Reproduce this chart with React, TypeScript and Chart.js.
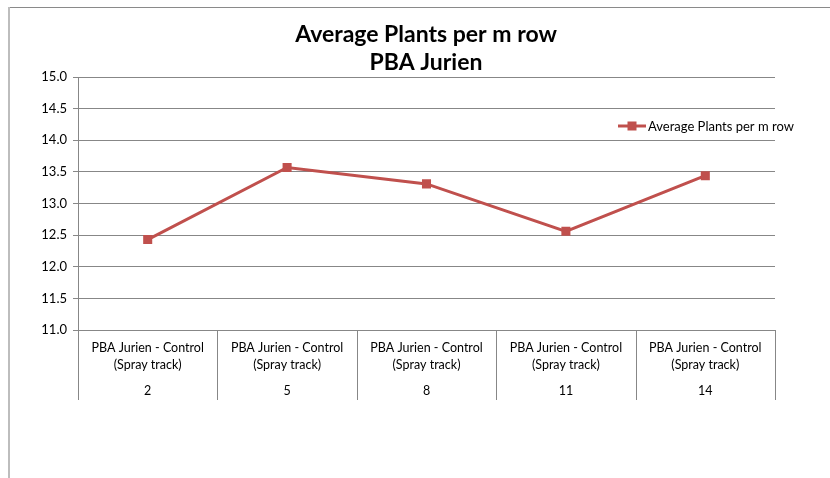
import React, { useEffect, useRef } from 'react';
import { Chart, registerables } from 'chart.js';

Chart.register(...registerables);

const titleLines = ['Average Plants per m row', 'PBA Jurien'];
const seriesName = 'Average Plants per m row';
const categoryLines = [
  ['PBA Jurien - Control', '(Spray track)'],
  ['PBA Jurien - Control', '(Spray track)'],
  ['PBA Jurien - Control', '(Spray track)'],
  ['PBA Jurien - Control', '(Spray track)'],
  ['PBA Jurien - Control', '(Spray track)'],
];
const plotNumbers = ['2', '5', '8', '11', '14'];
const values = [12.43, 13.57, 13.31, 12.56, 13.44];
const yMin = 11;
const yMax = 15;
const yStep = 0.5;

const FONT = 'Lato, Carlito, "Open Sans", sans-serif';
const RED = '#C0504D';
const GRID = '#878787';

const framePlugin = {
  id: 'frame',
  beforeDraw(chart: any) {
    const ctx = chart.ctx;
    ctx.save();
    ctx.fillStyle = '#ffffff';
    ctx.fillRect(0, 0, chart.width, chart.height);
    ctx.lineWidth = 1;
    ctx.strokeStyle = '#8a8a8a';
    ctx.beginPath();
    ctx.moveTo(8, 7.5);
    ctx.lineTo(chart.width, 7.5);
    ctx.stroke();
    ctx.strokeStyle = '#bdbdbd';
    ctx.lineWidth = 2;
    ctx.beginPath();
    ctx.moveTo(9, 7);
    ctx.lineTo(9, chart.height);
    ctx.stroke();
    ctx.restore();
  },
};

const separatorPlugin = {
  id: 'separators',
  afterDraw(chart: any) {
    const xs = chart.scales.x;
    const x2 = chart.scales.x2;
    const ctx = chart.ctx;
    const n = xs.getLabels().length;
    ctx.save();
    ctx.strokeStyle = GRID;
    ctx.lineWidth = 1;
    for (let i = 0; i <= n; i++) {
      const px = Math.round(xs.getPixelForValue(i - 0.5)) + 0.5;
      ctx.beginPath();
      ctx.moveTo(px, xs.top);
      ctx.lineTo(px, x2.bottom);
      ctx.stroke();
    }
    ctx.restore();
  },
};

const legendPlugin = {
  id: 'customLegend',
  afterDraw(chart: any) {
    const ds = chart.data.datasets[0];
    const ctx = chart.ctx;
    const x0 = 618;
    const y0 = 126;
    ctx.save();
    ctx.strokeStyle = ds.borderColor;
    ctx.lineWidth = 3;
    ctx.beginPath();
    ctx.moveTo(x0, y0);
    ctx.lineTo(x0 + 28, y0);
    ctx.stroke();
    ctx.fillStyle = ds.borderColor;
    ctx.fillRect(x0 + 14 - 4.5, y0 - 4.5, 9, 9);
    ctx.fillStyle = '#000';
    ctx.font = `13px ${FONT}`;
    ctx.textBaseline = 'middle';
    ctx.textAlign = 'left';
    ctx.fillText(ds.label, x0 + 30, y0 + 0.5);
    ctx.restore();
  },
};

export default function App() {
  const ref = useRef<HTMLCanvasElement | null>(null);

  useEffect(() => {
    if (!ref.current) return;
    const chart = new Chart(ref.current, {
      type: 'line',
      data: {
        labels: categoryLines,
        datasets: [
          {
            label: seriesName,
            data: values,
            borderColor: RED,
            backgroundColor: RED,
            borderWidth: 3,
            pointStyle: 'rect',
            pointRadius: 6.4,
            pointHoverRadius: 6.4,
            pointBorderWidth: 0,
            pointBackgroundColor: RED,
            tension: 0,
            xAxisID: 'x',
            yAxisID: 'y',
          },
        ],
      },
      options: {
        animation: false,
        responsive: false,
        devicePixelRatio: 1,
        layout: { padding: { left: 22, right: 0, top: 0, bottom: 78 } },
        plugins: {
          legend: { display: false },
          tooltip: { enabled: false },
          title: {
            display: true,
            text: titleLines,
            color: '#000',
            font: { family: FONT, size: 23, weight: 'bold', lineHeight: '28.5px' },
            padding: { top: 20, bottom: 0 },
          },
        },
        scales: {
          x: {
            type: 'category',
            position: 'bottom',
            offset: true,
            weight: 0,
            grid: { display: false, drawTicks: false },
            border: { display: false },
            ticks: {
              color: '#000',
              font: { family: FONT, size: 12.5, lineHeight: '16.7px' },
              padding: 10,
              maxRotation: 0,
              autoSkip: false,
            },
            afterFit: (s: any) => {
              s.height = 45;
            },
          },
          x2: {
            type: 'category',
            labels: plotNumbers,
            position: 'bottom',
            offset: true,
            weight: 1,
            grid: { display: false, drawTicks: false },
            border: { display: false },
            ticks: {
              color: '#000',
              font: { family: FONT, size: 12.5, lineHeight: '16.7px' },
              padding: 8,
              maxRotation: 0,
              autoSkip: false,
            },
            afterFit: (s: any) => {
              s.height = 25;
            },
          },
          y: {
            min: yMin,
            max: yMax,
            ticks: {
              stepSize: yStep,
              color: '#000',
              font: { family: FONT, size: 13 },
              padding: 6,
              callback: (v: any) => Number(v).toFixed(1),
            },
            grid: { color: GRID, tickLength: 5, lineWidth: 1 },
            border: { color: GRID },
            afterFit: (s: any) => {
              s.width = 56;
            },
          },
          yRight: {
            type: 'linear',
            position: 'right',
            display: true,
            min: yMin,
            max: yMax,
            ticks: { display: false },
            grid: { display: false, drawTicks: false },
            border: { display: false },
            afterFit: (s: any) => {
              s.width = 55;
            },
          },
        },
      },
      plugins: [framePlugin, separatorPlugin, legendPlugin],
    } as any);
    return () => chart.destroy();
  }, []);

  return (
    <div style={{ position: 'fixed', left: 0, top: 0, width: 830, height: 478 }}>
      <canvas ref={ref} width={830} height={478} style={{ width: 830, height: 478, display: 'block' }} />
    </div>
  );
}
